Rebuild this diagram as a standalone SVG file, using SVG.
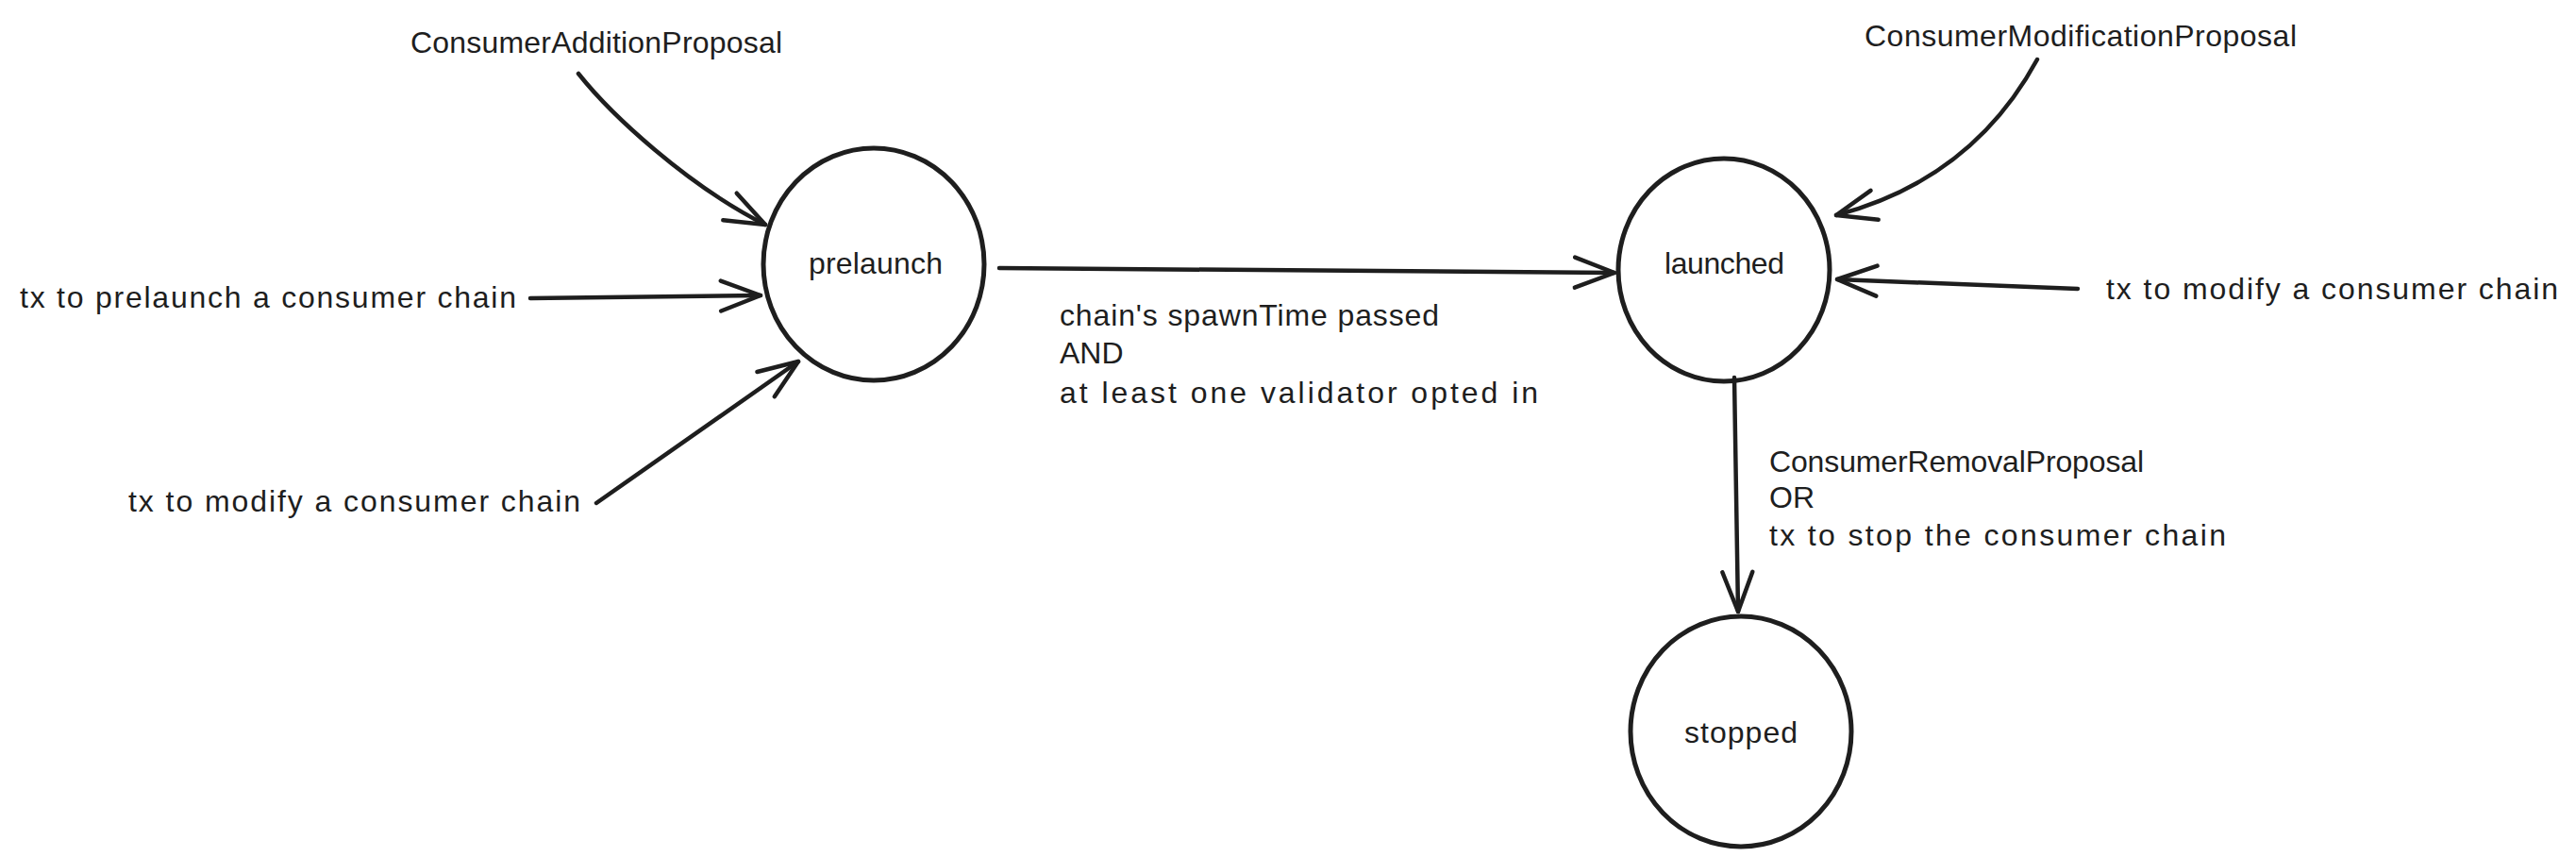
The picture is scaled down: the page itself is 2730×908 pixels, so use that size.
<svg xmlns="http://www.w3.org/2000/svg" width="2730" height="908" viewBox="0 0 2730 908">
<style>
.bg{fill:#ffffff}
.node{fill:none;stroke:#1e1e1e;stroke-width:5}
.edge{fill:none;stroke:#1e1e1e;stroke-width:4.5;stroke-linecap:round;stroke-linejoin:round}
.lbl{font-family:"Liberation Sans",Arial,sans-serif;font-size:32px;fill:#1e1e1e;dominant-baseline:central}
</style>
<defs>
<marker id="ah" markerUnits="userSpaceOnUse" markerWidth="60" markerHeight="60" refX="0" refY="0" viewBox="-50 -30 60 60" orient="auto" overflow="visible">
<path d="M-42,-16 L0,0 L-42,16" fill="none" stroke="#1e1e1e" stroke-width="4.5" stroke-linecap="round" stroke-linejoin="round"/>
</marker>
</defs>
<rect class="bg" x="0" y="0" width="2730" height="908"/>

<g id="connectors">
<path id="e-cap" class="edge" d="M613,78 C648,122 728,196 811,238" marker-end="url(#ah)"/>
<path id="e-txpre" class="edge" d="M562,316 L806,313" marker-end="url(#ah)"/>
<path id="e-txmodl" class="edge" d="M632,533 L846,383" marker-end="url(#ah)"/>
<path id="e-launch" class="edge" d="M1059,284 L1711,289" marker-end="url(#ah)"/>
<path id="e-cmp" class="edge" d="M2159,63 Q2090,190 1946,228" marker-end="url(#ah)"/>
<path id="e-txmodr" class="edge" d="M2202,306 L1947,296" marker-end="url(#ah)"/>
<path id="e-stop" class="edge" d="M1838,400 L1842,648" marker-end="url(#ah)"/>
</g>

<g id="node-prelaunch">
<ellipse class="node" cx="926" cy="280" rx="117" ry="123"/>
<text class="lbl" x="857" y="279" textLength="142" lengthAdjust="spacing">prelaunch</text>
</g>
<g id="node-launched">
<ellipse class="node" cx="1827" cy="286" rx="112" ry="118"/>
<text class="lbl" x="1764" y="279" textLength="127" lengthAdjust="spacing">launched</text>
</g>
<g id="node-stopped">
<ellipse class="node" cx="1845" cy="775" rx="117" ry="122"/>
<text class="lbl" x="1785" y="776" textLength="120" lengthAdjust="spacing">stopped</text>
</g>

<g id="label-cap"><text class="lbl" x="435" y="45" textLength="394" lengthAdjust="spacing">ConsumerAdditionProposal</text></g>
<g id="label-txpre"><text class="lbl" x="21" y="315" textLength="526" lengthAdjust="spacing">tx to prelaunch a consumer chain</text></g>
<g id="label-txmodl"><text class="lbl" x="136" y="531" textLength="479" lengthAdjust="spacing">tx to modify a consumer chain</text></g>
<g id="label-launch">
<text class="lbl" x="1123" y="334" textLength="402" lengthAdjust="spacing">chain's spawnTime passed</text>
<text class="lbl" x="1123" y="374">AND</text>
<text class="lbl" x="1123" y="416" textLength="507" lengthAdjust="spacing">at least one validator opted in</text>
</g>
<g id="label-cmp"><text class="lbl" x="1976" y="38" textLength="458" lengthAdjust="spacing">ConsumerModificationProposal</text></g>
<g id="label-txmodr"><text class="lbl" x="2232" y="306" textLength="479" lengthAdjust="spacing">tx to modify a consumer chain</text></g>
<g id="label-stop">
<text class="lbl" x="1875" y="489" textLength="397" lengthAdjust="spacing">ConsumerRemovalProposal</text>
<text class="lbl" x="1875" y="527">OR</text>
<text class="lbl" x="1875" y="567" textLength="484" lengthAdjust="spacing">tx to stop the consumer chain</text>
</g>
</svg>
